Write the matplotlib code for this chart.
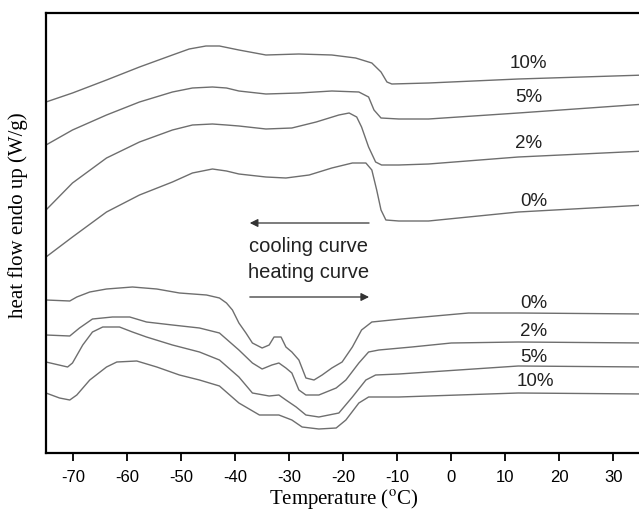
import numpy as np
from matplotlib import pyplot as plt

plt.rc('font', family='Liberation Sans')
plt.rc('mathtext', fontset='stix')

# cooling scans (upper group), temperature in degC, heat flow in arbitrary units
cool_10_T = [-75, -70.1, -63.8, -57.7, -51.6, -48.5, -45.4, -42.9, -39.3, -34.3, -28.2, -22.1, -17.7, -14.7,
             -13.0, -11.9, -11.0, -4.2, 12.4, 36]
cool_10_y = [351, 360, 373, 386, 398, 404, 407, 407, 403, 398, 399, 398, 395, 390,
             381, 371, 369, 370, 374, 378]
cool_5_T = [-75, -70.1, -63.8, -57.7, -51.6, -47.9, -44.2, -41.6, -39.3, -34.3, -28.2, -22.1, -17.1, -15.3,
            -14.3, -13.0, -9.7, -4.2, 12.4, 36]
cool_5_y = [308, 323, 338, 351, 361, 365, 366, 365, 362, 359, 360, 362, 361, 356,
            343, 335, 334, 334, 340, 349]
cool_2_T = [-75, -70.1, -63.8, -57.7, -51.6, -47.9, -44.2, -41.6, -39.3, -34.3, -29.5, -25.0, -20.8, -18.9,
            -17.5, -16.6, -15.3, -14.0, -12.9, -9.7, -4.2, 12.4, 36]
cool_2_y = [243, 270, 295, 311, 323, 328, 329, 328, 327, 324, 325, 331, 338, 340,
            336, 326, 306, 291, 288, 288, 289, 296, 302]
cool_0_T = [-75, -70.1, -63.8, -57.7, -51.6, -47.9, -44.2, -41.6, -39.3, -34.3, -30.6, -26.3, -22.1, -18.3,
            -15.8, -14.7, -13.8, -13.0, -12.1, -9.7, -4.2, 12.4, 36]
cool_0_y = [196, 216, 241, 258, 271, 280, 284, 282, 279, 276, 275, 278, 285, 290,
            290, 283, 263, 243, 233, 232, 232, 241, 248]

# heating scans (lower group)
heat_0_T = [-75, -70.6, -69.3, -66.9, -63.8, -59.0, -54.5, -50.3, -45.3, -42.9, -41.6, -40.5, -39.3, -38.0,
            -36.8, -35.0, -33.7, -32.8, -31.5, -30.6, -29.5, -28.2, -26.9, -25.4, -23.9, -22.1, -20.2, -18.3,
            -16.6, -14.7, -9.2, 3.2, 12.4, 36]
heat_0_y = [153, 152, 156, 161, 164, 166, 164, 160, 158, 155, 150, 143, 130, 120,
            110, 105, 108, 116, 116, 106, 101, 93, 75, 73, 78, 85, 91, 106,
            123, 131, 134, 140, 140, 139]
heat_2_T = [-75, -70.6, -68.8, -66.4, -62.7, -59.5, -56.4, -51.6, -46.6, -42.9, -39.3, -36.8, -35.0, -33.2,
            -31.9, -30.6, -29.5, -28.2, -26.9, -24.5, -21.3, -19.5, -17.1, -15.3, -13.4, -7.3, 0.0, 12.4, 36]
heat_2_y = [118, 117, 125, 134, 136, 136, 131, 128, 125, 120, 103, 90, 84, 88,
            90, 85, 80, 63, 58, 58, 65, 73, 90, 101, 103, 106, 110, 111, 110]
heat_5_T = [-75, -71.0, -70.1, -68.2, -66.4, -64.5, -61.4, -59.0, -56.4, -51.6, -46.6, -42.9, -39.3, -36.8,
            -33.7, -31.9, -30.6, -28.7, -26.9, -24.5, -20.8, -18.3, -15.8, -14.0, -9.7, 12.4, 36]
heat_5_y = [91, 86, 90, 108, 121, 126, 126, 121, 116, 108, 101, 93, 76, 60,
            57, 58, 53, 46, 38, 36, 40, 56, 73, 78, 79, 87, 86]
heat_10_T = [-75, -72.5, -70.6, -69.3, -66.9, -63.8, -61.9, -58.2, -54.5, -50.3, -46.6, -42.9, -39.3, -35.5,
             -31.9, -29.5, -27.6, -24.5, -21.3, -19.5, -17.1, -15.3, -9.7, 12.4, 36]
heat_10_y = [60, 55, 53, 58, 73, 86, 91, 92, 86, 78, 73, 67, 50, 38,
             38, 33, 26, 24, 25, 33, 50, 56, 56, 60, 59]

curves = [(cool_10_T, cool_10_y), (cool_5_T, cool_5_y), (cool_2_T, cool_2_y), (cool_0_T, cool_0_y),
          (heat_0_T, heat_0_y), (heat_2_T, heat_2_y), (heat_5_T, heat_5_y), (heat_10_T, heat_10_y)]

# curve labels: text, x, y
labels = [('10%', 14.3, 390), ('5%', 14.3, 355), ('2%', 14.3, 310), ('0%', 15.2, 251),
          ('0%', 15.2, 150), ('2%', 15.2, 121), ('5%', 15.2, 96), ('10%', 15.5, 71)]

xticks = [-70, -60, -50, -40, -30, -20, -10, 0, 10, 20, 30]

fig = plt.figure(figsize=(6.39, 5.12), dpi=100)
ax = fig.add_axes([46/639, 59/512, 596/639, 440/512])

for T, y in curves:
    ax.plot(T, y, color='#6e6e6e', linewidth=1.0, solid_joinstyle='round')

for txt, x, y in labels:
    ax.text(x, y, txt, fontsize=13.5, ha='center', va='center', color='#222222')

# scan direction arrows
ax.annotate('', xy=(-37.8, 230), xytext=(-14.7, 230),
            arrowprops=dict(arrowstyle='-|>', color='#333333', lw=0.9, mutation_scale=12))
ax.annotate('', xy=(-14.7, 156), xytext=(-37.8, 156),
            arrowprops=dict(arrowstyle='-|>', color='#333333', lw=0.9, mutation_scale=12))
ax.text(-26.4, 207, 'cooling curve', fontsize=14.5, ha='center', va='center', color='#222222')
ax.text(-26.4, 180, 'heating curve', fontsize=14.5, ha='center', va='center', color='#222222')

ax.set_xlim(-75, 35.3)
ax.set_ylim(0, 440)
ax.set_xticks(xticks)
ax.set_xticklabels([str(t) for t in xticks], fontsize=12)
ax.set_yticks([])
ax.tick_params(axis='x', direction='out', length=6, width=1.3, pad=6)
for s in ['left', 'bottom', 'top']:
    ax.spines[s].set_linewidth(1.6)
ax.spines['right'].set_visible(False)

ax.set_xlabel(r'Temperature ($^{\mathrm{o}}$C)', family='Liberation Serif', fontsize=15, labelpad=2)
ax.set_ylabel('heat flow endo up (W/g)', family='Liberation Serif', fontsize=15)
ax.yaxis.set_label_coords(-0.03, 0.54)

fig.savefig('out.png', dpi=100)
